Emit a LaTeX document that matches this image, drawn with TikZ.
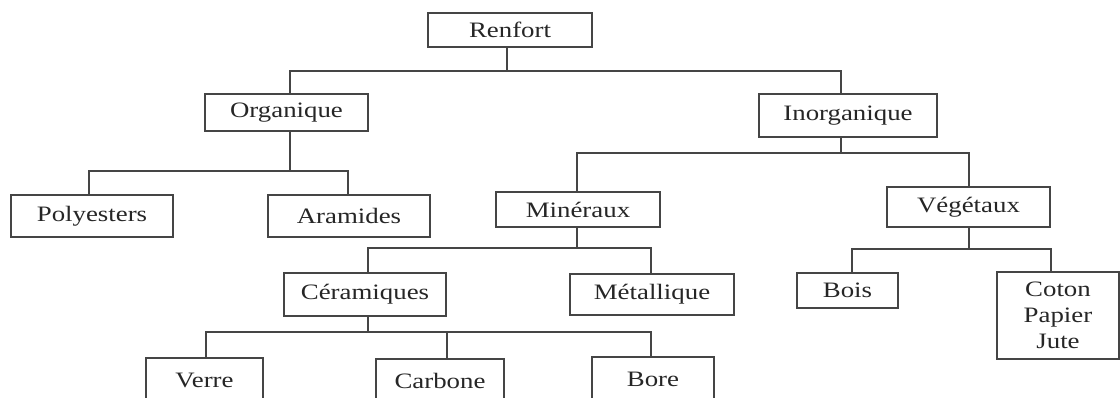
\documentclass[tikz,border=0pt]{standalone}
\usepackage{fontspec}
\setmainfont{Liberation Serif}[FakeStretch=1.22]
\usetikzlibrary{calc}
\definecolor{linec}{HTML}{454545}
\definecolor{textc}{HTML}{262626}
\begin{document}
\begin{tikzpicture}[x=0.75pt,y=-0.75pt,
  box/.style={draw=linec,line width=1.5pt,inner sep=0pt,align=center,
    font=\fontsize{16.5}{19.5}\selectfont,text=textc},
  wh/.style 2 args={minimum width=#1*0.75pt,minimum height=#2*0.75pt},
  conn/.style={draw=linec,line width=1.5pt}]
\useasboundingbox (0,0) rectangle (1120,397);
\clip (0,0) rectangle (1120,397);
\fill[white] (0,0) rectangle (1120,397);

\node[box,wh={164}{34}] (renfort) at (510,30) {Renfort};
\node[box,wh={163}{37}] (org) at (286.5,112.5) {Organique};
\node[box,wh={178}{43}] (inorg) at (848,115.5) {Inorganique};
\node[box,wh={162}{42}] (poly) at (92,216) {Polyesters};
\node[box,wh={162}{42}] (aram) at (349,216) {Aramides};
\node[box,wh={164}{35}] (min) at (578,209.5) {Minéraux};
\node[box,wh={163}{40}] (veg) at (968.5,207) {Végétaux};
\node[box,wh={162}{43}] (cer) at (365,294.5) {Céramiques};
\node[box,wh={164}{41}] (met) at (652,294.5) {Métallique};
\node[box,wh={101}{35}] (bois) at (847.5,290.5) {Bois};
\node[box,wh={122}{87}] (coton) at (1058,315.5) {Coton\\Papier\\Jute};
\node[box,wh={117}{44}] (verre) at (204.5,380) {Verre};
\node[box,wh={128}{44}] (carb) at (440,381) {Carbone};
\node[box,wh={122}{44}] (bore) at (653,379) {Bore};

\coordinate (b1) at (507,71);
\draw[conn] (renfort.south -| b1) -- (b1);
\draw[conn] ($(org.north)+(3.5,0)$) |- (b1) -| ($(inorg.north)+(-7,0)$);

\coordinate (b2) at (290,171);
\draw[conn] (org.south -| b2) -- (b2);
\draw[conn] ($(poly.north)+(-3,0)$) |- (b2) -| ($(aram.north)+(-1,0)$);

\coordinate (b3) at (841,153);
\draw[conn] (inorg.south -| b3) -- (b3);
\draw[conn] ($(min.north)+(-1,0)$) |- (b3) -| (veg.north);

\coordinate (b4) at (577,248);
\draw[conn] (min.south -| b4) -- (b4);
\draw[conn] ($(cer.north)+(3,0)$) |- (b4) -| ($(met.north)+(-1,0)$);

\coordinate (b5) at (969,249);
\draw[conn] (veg.south -| b5) -- (b5);
\draw[conn] ($(bois.north)+(4.5,0)$) |- (b5) -| ($(coton.north)+(-7,0)$);

\coordinate (b6) at (368,332);
\draw[conn] (cer.south -| b6) -- (b6);
\draw[conn] ($(verre.north)+(1.5,0)$) |- (b6) -| ($(bore.north)+(-2,0)$);
\draw[conn] ($(carb.north)+(7,0)$) -- ++(0,-27);
\end{tikzpicture}
\end{document}
